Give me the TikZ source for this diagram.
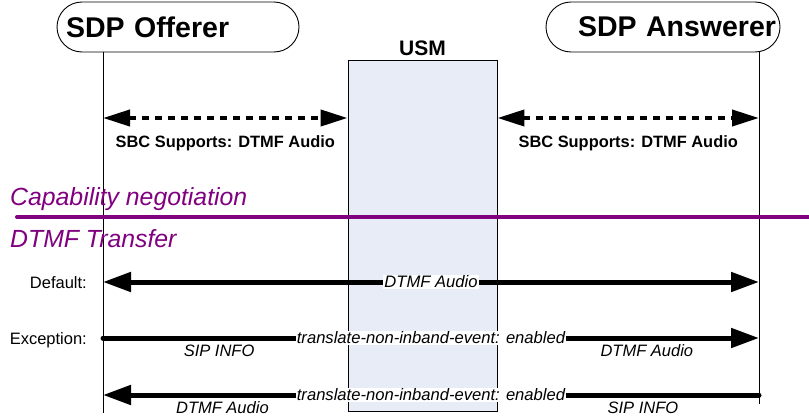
\documentclass[tikz,border=0pt]{standalone}
\usepackage{fontspec}
\setmainfont{Liberation Sans}
\usetikzlibrary{positioning,arrows.meta,calc}
\definecolor{usmfill}{RGB}{232,236,246}
\definecolor{phasecol}{RGB}{128,0,128}
\tikzset{
  party/.style={
    draw=black, line width=0.9pt,
    rounded corners=25pt,
    minimum height=50pt,
    inner xsep=9pt,
    font=\fontsize{28.5}{30}\selectfont\bfseries},
  usmbox/.style={
    draw=black, line width=0.9pt,
    fill=usmfill,
    minimum width=149pt,
    minimum height=351pt},
  lifeline/.style={draw, line width=0.9pt},
  negarrow/.style={
    line width=4pt,
    dash pattern=on 7pt off 6pt,
    {Triangle[length=27pt,width=16pt]}-{Triangle[length=27pt,width=16pt]}},
  msg/.style={line width=5pt},
  bothhead/.style={msg, {Triangle[length=28pt,width=19pt]}-{Triangle[length=28pt,width=19pt]}},
  righthead/.style={msg, line cap=round, -{Triangle[length=28pt,width=19pt]}},
  lefthead/.style={msg, line cap=round, {Triangle[length=28pt,width=19pt]}-},
  support/.style={font=\fontsize{16.4}{18}\selectfont\bfseries},
  phase/.style={text=phasecol, inner sep=0pt, font=\fontsize{24.8}{26}\selectfont\itshape},
  rowlabel/.style={inner sep=0pt, font=\fontsize{16.5}{18}\selectfont},
  onmsg/.style={fill=white, inner sep=1pt, font=\fontsize{16.6}{18}\selectfont\itshape},
  undermsg/.style={font=\fontsize{16.5}{18}\selectfont\itshape},
}
\begin{document}
\begin{tikzpicture}[x=1pt,y=-1pt]
  \useasboundingbox (0,0) rectangle (809,420);

  % parties and USM
  \node[party, minimum width=242pt, text width=224pt, align=left] (offerer) at (178,27) {SDP Offerer};
  \node[party, minimum width=234pt, text width=226pt, align=right, inner xsep=3pt] (answerer) at (663,27) {SDP Answerer};
  \node[usmbox] (usm) at (422.5,235.5) {};
  \node[font=\fontsize{21}{22}\selectfont\bfseries, above=0pt of usm] (usmlabel) {USM};

  % lifelines
  \coordinate (offbot) at (103,413);
  \coordinate (ansbot) at (759,404);
  \draw[lifeline] (offerer.south -| offbot) -- (offbot);
  \draw[lifeline] (answerer.south -| ansbot) -- (ansbot);

  \foreach \r/\y in {neg/118, def/282, exa/338, exb/395}{
    \coordinate (off-\r) at (offbot |- 0,\y);
    \coordinate (ans-\r) at (ansbot |- 0,\y);
  }

  % capability negotiation
  \draw[negarrow] (off-neg) -- (usm.west |- off-neg)
    node[support, midway, below=12pt] (supleft) {SBC Supports: DTMF Audio};
  \draw[negarrow] (usm.east |- ans-neg) -- (ans-neg)
    node[support, midway, below=12pt] (supright) {SBC Supports: DTMF Audio};

  \node[phase, anchor=base west] (capneg) at (10,205) {Capability negotiation};
  \draw[phasecol, line width=4pt, line cap=round] (17,217) -- (812,217);
  \node[phase, anchor=base west] (transfer) at (10,247) {DTMF Transfer};

  % DTMF transfer
  \node[rowlabel, anchor=base east] (default) at (87,288) {Default:};
  \node[rowlabel, anchor=base east] (exception) at (87,344) {Exception:};

  \draw[bothhead] (off-def) -- (ans-def)
    node[onmsg, midway] (defmsg) {DTMF Audio};
  \draw[righthead] (off-exa) -- (ans-exa)
    node[onmsg, midway] (examsg) {translate-non-inband-event: enabled}
    node[undermsg, pos=0.177, below=1pt] (exasip) {SIP INFO}
    node[undermsg, pos=0.829, below=1pt] (exaaudio) {DTMF Audio};
  \draw[lefthead] (off-exb) -- (ans-exb)
    node[onmsg, midway] (exbmsg) {translate-non-inband-event: enabled}
    node[undermsg, pos=0.182, below=1pt] (exbaudio) {DTMF Audio}
    node[undermsg, pos=0.823, below=1pt] (exbsip) {SIP INFO};
\end{tikzpicture}
\end{document}
